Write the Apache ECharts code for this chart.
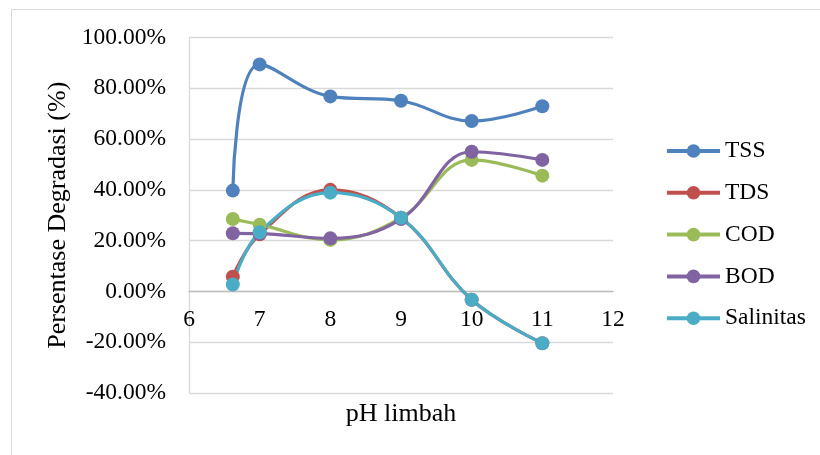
<!DOCTYPE html>
<html>
<head>
<meta charset="utf-8">
<script src="https://cdn.jsdelivr.net/npm/echarts@6/dist/echarts.min.js"></script>
<style>html,body{margin:0;padding:0;background:#fff}#c{width:820px;height:455px}</style>
</head>
<body>
<div id="c"></div>
<script>
var phValues = [6.62, 7, 8, 9, 10, 11];
var seriesNames = ['TSS', 'TDS', 'COD', 'BOD', 'Salinitas'];
var tss = [39.7, 89.4, 76.8, 75.1, 67.1, 72.9];
var tds = [5.8, 22.5, 40.0, 29.0, -3.3, -20.4];
var cod = [28.5, 26.3, 20.3, 29.0, 51.8, 45.6];
var bod = [22.9, 22.8, 20.9, 28.5, 55.0, 51.8];
var salinitas = [2.7, 23.3, 38.9, 29.0, -3.3, -20.4];
var colors = ['#4F81BD', '#C0504D', '#9BBB59', '#8064A2', '#4BACC6'];

var allData = [tss, tds, cod, bod, salinitas];
var font = 'Liberation Serif, Times New Roman, serif';
var chart = echarts.init(document.getElementById('c'));
chart.setOption({
  animation: false,
  color: colors,
  textStyle: { fontFamily: font },
  graphic: [{
    type: 'rect', shape: { x: 11.5, y: 9.5, width: 900, height: 600 },
    style: { fill: null, stroke: '#d9d9d9', lineWidth: 1 }, silent: true
  }],
  grid: { left: 189, right: 207, top: 37.5, bottom: 62, containLabel: false, outerBoundsMode: 'none' },
  xAxis: {
    type: 'value', min: 6, max: 12, interval: 1,
    position: 'bottom', offset: -101.5,
    name: 'pH limbah', nameLocation: 'middle', nameGap: 110,
    nameTextStyle: { fontFamily: font, fontSize: 26, color: '#000' },
    axisLine: { onZero: false, lineStyle: { color: '#bfbfbf', width: 1.3 } },
    axisTick: { show: false },
    splitLine: { show: false },
    axisLabel: { fontFamily: font, fontSize: 23.5, color: '#000', margin: 16 }
  },
  yAxis: {
    type: 'value', min: -40, max: 100, interval: 20,
    name: 'Persentase Degradasi (%)', nameLocation: 'middle', nameGap: 110,
    nameTextStyle: { fontFamily: font, fontSize: 26, color: '#000' },
    axisLine: { show: true, onZero: false, lineStyle: { color: '#d9d9d9', width: 1.3 } },
    axisTick: { show: false },
    splitLine: { show: true, lineStyle: { color: '#d9d9d9', width: 1.3 } },
    axisLabel: { fontFamily: font, fontSize: 23.5, color: '#000', margin: 23,
      formatter: function (v) { return v.toFixed(2) + '%'; } }
  },
  legend: {
    orient: 'vertical', left: 660, top: 134,
    itemWidth: 53, itemHeight: 17, itemGap: 17.8,
    lineStyle: { width: 4 },
    textStyle: { fontFamily: font, fontSize: 23.5, color: '#000' },
    data: seriesNames
  },
  series: seriesNames.map(function (n, i) {
    return {
      name: n, type: 'line', smooth: 0.4,
      data: phValues.map(function (x, j) { return [x, allData[i][j]]; }),
      symbol: 'circle', symbolSize: 14,
      lineStyle: { width: 3.2, color: colors[i] },
      itemStyle: { color: colors[i] }
    };
  })
});
</script>
</body>
</html>
